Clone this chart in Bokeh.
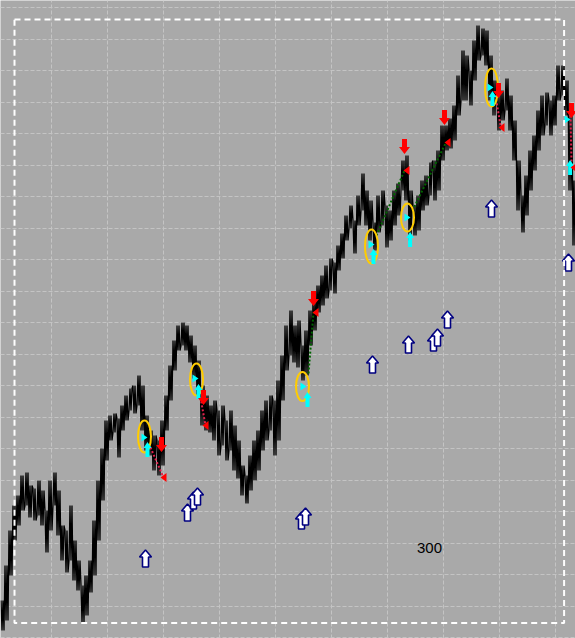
from bokeh.plotting import figure
from bokeh.models import Range1d, Grid, FixedTicker, BoxAnnotation
from bokeh.core.properties import value
from bokeh.embed import file_html
from bokeh.resources import INLINE

# ---- price series: high / low per bar ----
bar_high = [38, 73, 108, 133, 143, 163, 166, 153, 150, 158, 148, 128, 158, 166, 148, 113,
            108, 133, 98, 78, 53, 63, 78, 118, 158, 190, 218, 223, 225, 220, 233, 243,
            250, 253, 263, 253, 223, 208, 203, 198, 218, 243, 273, 298, 313, 316, 313, 303,
            293, 278, 253, 243, 233, 238, 228, 233, 218, 228, 213, 198, 173, 163, 183, 198,
            208, 228, 238, 243, 238, 258, 283, 313, 328, 313, 318, 293, 308, 328, 338, 353,
            363, 373, 380, 376, 393, 405, 423, 433, 418, 443, 465, 448, 438, 416, 443, 448,
            433, 428, 448, 455, 478, 483, 448, 433, 443, 458, 463, 476, 478, 488, 513, 513,
            520, 533, 563, 588, 583, 568, 598, 613, 610, 608, 583, 558, 543, 548, 560, 543,
            518, 478, 443, 463, 488, 503, 528, 543, 546, 538, 543, 573, 573, 558, 523, 458]
bar_low = [8, 18, 63, 98, 113, 128, 133, 121, 118, 123, 113, 86, 108, 133, 103, 78,
           66, 78, 58, 48, 16, 23, 46, 63, 98, 138, 178, 198, 206, 181, 208, 218,
           228, 225, 233, 208, 188, 183, 168, 163, 173, 208, 238, 268, 288, 293, 288, 276,
           260, 243, 213, 208, 206, 198, 183, 193, 178, 188, 168, 160, 143, 135, 148, 158,
           168, 188, 198, 208, 183, 198, 238, 268, 283, 276, 271, 258, 263, 293, 308, 326,
           333, 340, 348, 345, 368, 380, 398, 410, 385, 413, 428, 413, 398, 388, 406, 413,
           391, 398, 413, 423, 448, 438, 398, 403, 408, 428, 433, 443, 438, 448, 478, 488,
           490, 498, 523, 538, 538, 533, 558, 578, 583, 573, 538, 523, 508, 518, 528, 508,
           478, 428, 406, 423, 448, 468, 488, 503, 513, 503, 513, 538, 543, 523, 448, 393]
bars = list(range(len(bar_high)))

# ---- signal zones (ellipses) ----
zone_bar = [35.5, 48.5, 75.0, 92.25, 101.25, 122.25]
zone_price = [202, 259, 252, 392, 421, 551]
zone_span = [32, 32, 29, 34, 28, 38]

# ---- entry marks (cyan) ----
entry_bar = [35.5, 48.25, 75.25, 92.25, 101.25, 122.0, 141.25]
entry_price = [201, 260, 252, 394, 421, 551, 519]
buy_bar = [36.25, 49.0, 76.25, 92.75, 101.9, 122.5, 141.9]
buy_price = [189, 247, 239, 382, 399, 540, 471]

# ---- sell marks (red) ----
sell_bar = [39.75, 50.25, 77.75, 100.5, 110.5, 124.0, 142.25]
sell_price = [194, 241, 340, 492, 521, 548, 528]
exit_bar = [40.25, 50.75, 78.25, 101.0, 111.25, 124.75, 142.75]
exit_price = [161, 213, 326, 468, 496, 511, 471]

# ---- trade links ----
win_x0 = [76.5, 93.5, 102.5]
win_y0 = [265, 403, 428]
win_x1 = [77.75, 100.5, 110.75]
win_y1 = [326, 468, 495]
loss_x0 = [37.0, 49.5, 123.25, 142.0]
loss_y0 = [191, 241, 543, 523]
loss_x1 = [40.25, 50.75, 124.5, 142.25]
loss_y1 = [161, 213, 513, 476]

# ---- alert arrows (hollow) ----
alert_bar = [35.75, 46.25, 47.75, 48.75, 74.75, 75.75, 92.5, 101.5, 107.75, 108.75,
             111.25, 122.25, 141.5]
alert_price = [80, 126, 138, 142, 118, 122, 274, 294, 296, 301, 319, 430, 376]

# ---- level label ----
label_bar = [106.75]
label_price = [91]
label_text = ["300"]

W, H = 575, 638
x0, x1 = -0.5, 143.25
y0, y1 = 0, 638

p = figure(width=W, height=H, x_range=Range1d(x0, x1), y_range=Range1d(y0, y1),
           output_backend="svg", toolbar_location=None,
           x_axis_location=None, y_axis_location=None, min_border=0,
           background_fill_color="#a9a9a9", border_fill_color="#a9a9a9",
           outline_line_color=None)
p.grid.visible = False

# dashed grid
p.add_layout(Grid(dimension=0, ticker=FixedTicker(ticks=[12.25 + 14 * k for k in range(10)]),
                  grid_line_color="#c4c4c4", grid_line_dash="4 2", grid_line_width=1))
p.add_layout(Grid(dimension=1, ticker=FixedTicker(ticks=[631 - 31.5 * k for k in range(21)]),
                  grid_line_color="#c4c4c4", grid_line_dash="4 2", grid_line_width=1))

# frame
p.add_layout(BoxAnnotation(left=3, right=140.4, bottom=15.5, top=619,
                           fill_alpha=0, line_color="white", line_alpha=1.0,
                           line_width=2, line_dash="6 4"))

# price: a path sweeping each bar's high-low range several times
zx, zy = [], []
offsets = [-0.375, -0.125, 0.125, 0.375]
for i in bars:
    mid = bar_high[i] + bar_low[i]
    nxt = bar_high[i + 1] + bar_low[i + 1] if i + 1 < len(bars) else mid
    a, b = (bar_high[i], bar_low[i]) if nxt > mid else (bar_low[i], bar_high[i])
    for k, off in enumerate(offsets):
        zx.append(i + off)
        zy.append(a if k % 2 == 0 else b)
p.line(zx, zy, line_color="black", line_width=1.3)

# pixel -> data scale factors for marker shapes
sx = (x1 - x0) / W
sy = (y1 - y0) / H


def arrow(cx, cy, w, h, head, stem, up=True):
    s = 1 if up else -1
    pts = [(0, h / 2), (w / 2, h / 2 - head), (stem / 2, h / 2 - head), (stem / 2, -h / 2),
           (-stem / 2, -h / 2), (-stem / 2, h / 2 - head), (-w / 2, h / 2 - head)]
    return [cx + dx * sx for dx, _ in pts], [cy + s * dy * sy for _, dy in pts]


def tri(cx, cy, w, h, right=True):
    s = 1 if right else -1
    pts = [(w / 2, 0), (-w / 2, h / 2), (-w / 2, -h / 2)]
    return [cx + s * dx * sx for dx, _ in pts], [cy + dy * sy for _, dy in pts]


def shapes(fn, xs, ys, *args, **kw):
    out_x, out_y = [], []
    for x, y in zip(xs, ys):
        a, b = fn(x, y, *args, **kw)
        out_x.append(a)
        out_y.append(b)
    return out_x, out_y


# trade links
p.segment(x0=win_x0, y0=win_y0, x1=win_x1, y1=win_y1, line_color="#006400",
          line_width=2, line_dash="2 2")
p.segment(x0=loss_x0, y0=loss_y0, x1=loss_x1, y1=loss_y1, line_color="#e0204a",
          line_width=2, line_dash="2 2")

# zones
p.ellipse(x=zone_bar, y=zone_price, width=13, height=zone_span, width_units="screen",
          fill_alpha=0, line_color="#ffcc00", line_width=2)

# entries
ex, ey = shapes(tri, entry_bar, entry_price, 6, 8, right=True)
p.patches(ex, ey, fill_color="cyan", line_color=None)
bx, by = shapes(arrow, buy_bar, buy_price, 8, 15, 6, 4, up=True)
p.patches(bx, by, fill_color="cyan", line_color=None)

# sells and exits
rx, ry = shapes(arrow, sell_bar, sell_price, 11, 15, 7, 5, up=False)
p.patches(rx, ry, fill_color="red", line_color=None)
tx, ty = shapes(tri, exit_bar, exit_price, 6, 9, right=False)
p.patches(tx, ty, fill_color="red", line_color=None)

# alerts
ax, ay = shapes(arrow, alert_bar, alert_price, 12, 17, 7, 6, up=True)
p.patches(ax, ay, fill_color="white", line_color="#000080", line_width=1.6)

# label
p.text(x=label_bar, y=label_price, text=label_text, text_font=value("Liberation Sans"),
       text_font_size="15px", text_align="center", text_baseline="middle",
       text_color="black")

open("out.html", "w").write(file_html(p, INLINE))
